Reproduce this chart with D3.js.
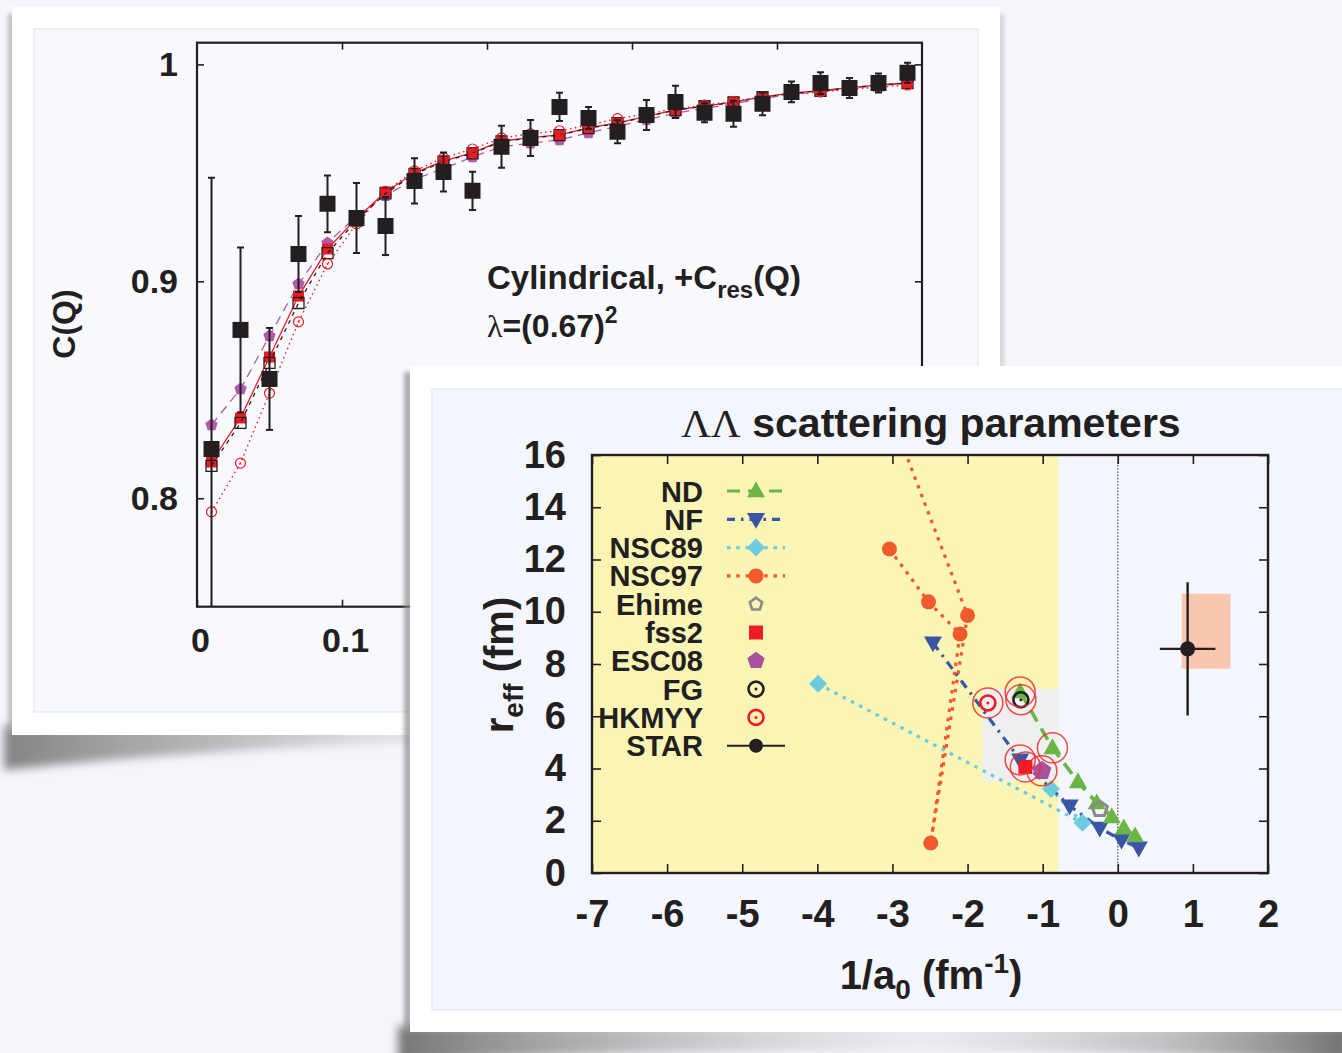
<!DOCTYPE html>
<html><head><meta charset="utf-8">
<script src="https://cdn.jsdelivr.net/npm/d3@7"></script>
<style>
html,body{margin:0;padding:0;background:#f4f6fa;}
svg{display:block;}
text{font-family:"Liberation Sans",Arial,Helvetica,sans-serif;font-weight:bold;fill:#231f20;}
</style></head><body>
<svg id="fig" width="1342" height="1053"></svg>
<script>
// ---------- Panel A: C(Q) correlation function ----------
const qValues = [0.01,0.03,0.05,0.07,0.09,0.11,0.13,0.15,0.17,0.19,0.21,0.23,0.25,0.27,0.29,0.31,0.33,0.35,0.37,0.39,0.41,0.43,0.45,0.47,0.49];
const cData   = [0.8227,0.8776,0.8550,0.9126,0.9357,0.9292,0.9255,0.9463,0.9504,0.9417,0.9620,0.9661,0.9804,0.9753,0.9689,0.9767,0.9827,0.9777,0.9772,0.9818,0.9873,0.9914,0.9891,0.9914,0.9961];
const cErr    = [0.125,0.038,0.0235,0.0175,0.0131,0.0161,0.0134,0.0104,0.009,0.0088,0.0097,0.0083,0.0065,0.0051,0.0053,0.0069,0.0074,0.0044,0.006,0.0053,0.0048,0.005,0.0046,0.0044,0.0046];
const cFss2   = [0.8167,0.8370,0.8651,0.8932,0.9149,0.9290,0.9412,0.9499,0.9555,0.9592,0.9647,0.9662,0.9675,0.9707,0.9730,0.9760,0.9790,0.9808,0.9826,0.9850,0.9868,0.9879,0.9893,0.9905,0.9915];
const cOpenSq = [0.8149,0.8347,0.8624,0.8900,0.9130,0.9280,0.9405,0.9494,0.9552,0.9590,0.9645,0.9660,0.9674,0.9706,0.9729,0.9759,0.9789,0.9807,0.9825,0.9849,0.9867,0.9878,0.9892,0.9904,0.9914];
const cEsc08  = [0.8338,0.8504,0.8748,0.8988,0.9177,0.9300,0.9395,0.9470,0.9520,0.9573,0.9620,0.9637,0.9652,0.9684,0.9715,0.9745,0.9775,0.9797,0.9818,0.9843,0.9862,0.9875,0.9889,0.9902,0.9913];
const cHkmyy  = [0.7937,0.8162,0.8485,0.8813,0.9080,0.9265,0.9415,0.9509,0.9569,0.9610,0.9661,0.9680,0.9694,0.9720,0.9750,0.9772,0.9795,0.9812,0.9830,0.9850,0.9862,0.9873,0.9885,0.9895,0.9905];
const corrXTicks = [0,0.1,0.2,0.3,0.4];
const corrXLabels = ["0","0.1","0.2","0.3","0.4"];
const corrYTicks = [0.8,0.9,1];
const corrYLabels = ["0.8","0.9","1"];

// ---------- Panel B: LambdaLambda scattering parameters ----------
const ndInvA   = [-1.30,-0.87,-0.53,-0.28,-0.08,0.08,0.23];
const ndReff   = [6.93,4.79,3.49,2.68,2.15,1.72,1.42];
const nfInvA   = [-2.46,-1.30,-0.64,-0.24,0.05,0.28];
const nfReff   = [8.81,4.33,2.57,1.72,1.26,0.96];
const nsc89InvA = [-3.99,-0.47,-0.89];
const nsc89Reff = [7.24,1.92,3.22];
const nsc97InvA = [-3.04,-2.52,-2.10,-2.49,-2.00,-2.86];
const nsc97Reff = [12.40,10.38,9.15,1.15,9.86,16.33];
const ehime = [-0.24,2.45];
const fss2  = [-1.23,4.06];
const esc08 = [-1.01,3.91];
const fg    = [-1.29,6.63];
const hkmyy = [-1.73,6.51];
const star  = [0.93,8.58];
const starErrInvA = 0.37;
const starErrReff = 2.55;
const starSysInvA = [0.85,1.50];
const starSysReff = [7.82,10.69];
const allowedInvA = [-7,-0.79];
const favouredInvA = [-1.8,-0.79];
const favouredReff = [3.52,7.05];
// models that are consistent with the measured correlation (ringed)
const ringed = [[ndInvA[0],ndReff[0]],fg,hkmyy,[ndInvA[1],ndReff[1]],[nfInvA[1],nfReff[1]],fss2,esc08];
const invATicks = [-7,-6,-5,-4,-3,-2,-1,0,1,2];
const invALabels = ["-7","-6","-5","-4","-3","-2","-1","0","1","2"];
const reffTicks = [0,2,4,6,8,10,12,14,16];
const reffLabels = ["0","2","4","6","8","10","12","14","16"];
const legendNames = ["ND","NF","NSC89","NSC97","Ehime","fss2","ESC08","FG","HKMYY","STAR"];

const INK = "#231f20";
const svg = d3.select("#fig");
const defs = svg.append("defs");

// ---- marker shapes ----
function pentagon(r){const p=d3.path();for(let k=0;k<5;k++){const a=-Math.PI/2+k*2*Math.PI/5;const x=r*Math.cos(a),y=r*Math.sin(a);k?p.lineTo(x,y):p.moveTo(x,y);}p.closePath();return p.toString();}
function triangle(w,down){const h=w*0.88,s=down?-1:1;return `M0,${-s*h*0.6}L${w/2},${s*h*0.4}L${-w/2},${s*h*0.4}Z`;}
function diamond(r){return `M0,${-r}L${r},0L0,${r}L${-r},0Z`;}
function square(h){return `M${-h/2},${-h/2}h${h}v${h}h${-h}Z`;}

// ---- shadows & blur ----
const blur = defs.append("filter").attr("id","soft").attr("x","-20%").attr("y","-200%").attr("width","140%").attr("height","500%");
blur.append("feGaussianBlur").attr("stdDeviation",5);
const blur2 = defs.append("filter").attr("id","soft2").attr("x","-50%").attr("y","-10%").attr("width","200%").attr("height","120%");
blur2.append("feGaussianBlur").attr("stdDeviation",2);
function hGrad(id,stops){const g=defs.append("linearGradient").attr("id",id).attr("x1",0).attr("x2",1).attr("y1",0).attr("y2",0);
  stops.forEach(s=>g.append("stop").attr("offset",s[0]).attr("stop-color",s[1]).attr("stop-opacity",s[2]));}
hGrad("sh1",[[0,"#707070",0.85],[0.5,"#909090",0.6],[1,"#b8b8b8",0.25]]);
hGrad("sh2",[[0,"#707070",0.95],[0.3,"#a8a8a8",0.6],[0.55,"#d8d8d8",0.35],[0.8,"#a0a0a0",0.6],[1,"#6a6a6a",0.95]]);

// card 1
svg.append("path").attr("d","M4,726 L430,726 L430,742 Q220,748 4,770 Z").attr("fill","url(#sh1)").attr("filter","url(#soft)");
svg.append("rect").attr("x",8).attr("y",14).attr("width",8).attr("height",718).attr("fill","#9a9a9a").attr("opacity",0.6).attr("filter","url(#soft2)");
svg.append("rect").attr("x",998).attr("y",14).attr("width",6).attr("height",718).attr("fill","#b0b0b0").attr("opacity",0.5).attr("filter","url(#soft2)");
svg.append("rect").attr("x",12).attr("y",7).attr("width",988).attr("height",728).attr("fill","#ffffff");
svg.append("rect").attr("x",34).attr("y",29).attr("width",944).attr("height",683).attr("fill","#f7f9fd").attr("stroke","#e1e4eb").attr("stroke-width",1);

// ===== Panel A =====
const x1 = d3.scaleLinear().domain([0,0.5]).range([197,922]);
const y1 = d3.scaleLinear().domain([0.75,1.01]).range([606.7,42.7]);
const pA = svg.append("g");
defs.append("clipPath").attr("id","clipA").append("rect").attr("x",197).attr("y",42.7).attr("width",725).attr("height",564);

function styleAxis(g,size){
  g.attr("font-size",null).attr("font-family",null);
  g.select(".domain").remove();
  g.selectAll("line").attr("stroke",INK).attr("stroke-width",1.6);
  g.selectAll("text").style("font-size",size+"px").style("fill",INK);
}
const gxA = pA.append("g").attr("transform",`translate(0,${y1.range()[0]})`)
  .call(d3.axisBottom(x1).tickValues(corrXTicks).tickFormat((d,i)=>corrXLabels[i]).tickSize(-7).tickPadding(21));
styleAxis(gxA,34);
gxA.selectAll("text").attr("dx",3);
styleAxis(pA.append("g").attr("transform",`translate(0,${y1.range()[1]})`)
  .call(d3.axisTop(x1).tickValues(corrXTicks.slice(1)).tickFormat("").tickSize(-7)),34);
styleAxis(pA.append("g").attr("transform",`translate(${x1.range()[0]},0)`)
  .call(d3.axisLeft(y1).tickValues(corrYTicks).tickFormat((d,i)=>corrYLabels[i]).tickSize(-7).tickPadding(19)),34);
styleAxis(pA.append("g").attr("transform",`translate(${x1.range()[1]},0)`)
  .call(d3.axisRight(y1).tickValues(corrYTicks).tickFormat("").tickSize(-7)),34);

const plotA = pA.append("g").attr("clip-path","url(#clipA)");
const lineA = d3.line().x((d,i)=>x1(qValues[i])).y(d=>y1(d));
// ESC08
plotA.append("path").attr("d",lineA(cEsc08)).attr("fill","none").attr("stroke","#b35aa8").attr("stroke-width",1.3).attr("stroke-dasharray","9,6");
plotA.selectAll(".pe").data(cEsc08).join("path").attr("d",pentagon(6.5)).attr("fill","#b35aa8")
  .attr("transform",(d,i)=>`translate(${x1(qValues[i])},${y1(d)})`);
// fss2
plotA.append("path").attr("d",lineA(cFss2)).attr("fill","none").attr("stroke","#ed1c24").attr("stroke-width",1.3);
plotA.selectAll(".fs").data(cFss2).join("path").attr("d",square(11)).attr("fill","#ed1c24")
  .attr("transform",(d,i)=>`translate(${x1(qValues[i])},${y1(d)})`);
// open squares, black dashed
plotA.append("path").attr("d",lineA(cOpenSq)).attr("fill","none").attr("stroke",INK).attr("stroke-width",1.3).attr("stroke-dasharray","4,5");
plotA.selectAll(".os").data(cOpenSq).join("path").attr("d",square(11)).attr("fill","none").attr("stroke",INK).attr("stroke-width",1.3)
  .attr("transform",(d,i)=>`translate(${x1(qValues[i])},${y1(d)})`);
// HKMYY
plotA.append("path").attr("d",lineA(cHkmyy)).attr("fill","none").attr("stroke","#ed1c24").attr("stroke-width",1.4).attr("stroke-dasharray","1.5,3.5");
const hk = plotA.selectAll(".hk").data(cHkmyy).join("g").attr("transform",(d,i)=>`translate(${x1(qValues[i])},${y1(d)})`);
hk.append("circle").attr("r",5).attr("fill","none").attr("stroke","#ed1c24").attr("stroke-width",1.2);
hk.append("circle").attr("r",0.9).attr("fill","#ed1c24");
// measured points with error bars
const dat = plotA.selectAll(".dt").data(cData).join("g");
dat.append("line").attr("x1",(d,i)=>x1(qValues[i])).attr("x2",(d,i)=>x1(qValues[i]))
  .attr("y1",(d,i)=>y1(d-cErr[i])).attr("y2",(d,i)=>y1(d+cErr[i])).attr("stroke",INK).attr("stroke-width",2);
[-1,1].forEach(s=>dat.append("line").attr("x1",(d,i)=>x1(qValues[i])-3.5).attr("x2",(d,i)=>x1(qValues[i])+3.5)
  .attr("y1",(d,i)=>y1(d+s*cErr[i])).attr("y2",(d,i)=>y1(d+s*cErr[i])).attr("stroke",INK).attr("stroke-width",2));
dat.append("path").attr("d",square(16)).attr("fill",INK).attr("transform",(d,i)=>`translate(${x1(qValues[i])},${y1(d)})`);

pA.append("rect").attr("x",197).attr("y",42.7).attr("width",725).attr("height",564).attr("fill","none").attr("stroke",INK).attr("stroke-width",2.2);

pA.append("text").attr("transform","translate(75,324) rotate(-90)").attr("text-anchor","middle").style("font-size","32px").text("C(Q)");
const t1 = pA.append("text").attr("x",487).attr("y",289).style("font-size","33px");
t1.append("tspan").text("Cylindrical, +C");
t1.append("tspan").attr("dy",9).style("font-size","24px").text("res");
t1.append("tspan").attr("dy",-9).text("(Q)");
const t2 = pA.append("text").attr("x",487).attr("y",337).style("font-size","32px");
t2.append("tspan").style("font-family","'Liberation Serif',serif").style("font-weight","normal").text("λ");
t2.append("tspan").text("=(0.67)");
t2.append("tspan").attr("dy",-14).style("font-size","23px").text("2");

// card 2
svg.append("path").attr("d","M398,1026 L1350,1026 L1350,1062 Q870,1040 398,1062 Z").attr("fill","url(#sh2)").attr("filter","url(#soft)");
svg.append("rect").attr("x",404).attr("y",372).attr("width",8).attr("height",660).attr("fill","#8a8a8a").attr("opacity",0.7).attr("filter","url(#soft2)");
svg.append("rect").attr("x",410).attr("y",366).attr("width",940).attr("height",666).attr("fill","#ffffff");
svg.append("rect").attr("x",432).attr("y",389).attr("width",920).attr("height",621).attr("fill","#f3f6fd").attr("stroke","#dde1ea").attr("stroke-width",1);

// ===== Panel B =====
const x2 = d3.scaleLinear().domain([-7,2]).range([592,1268]);
const y2 = d3.scaleLinear().domain([0,16]).range([873,455]);
const pB = svg.append("g");
defs.append("clipPath").attr("id","clipB").append("rect").attr("x",592).attr("y",455).attr("width",676).attr("height",418);
const plotB = pB.append("g").attr("clip-path","url(#clipB)");

plotB.append("rect").attr("x",x2(allowedInvA[0])).attr("y",y2(16)).attr("width",x2(allowedInvA[1])-x2(allowedInvA[0])).attr("height",y2(0)-y2(16)).attr("fill","#faf5b5");
plotB.append("rect").attr("x",x2(favouredInvA[0])).attr("y",y2(favouredReff[1])).attr("width",x2(favouredInvA[1])-x2(favouredInvA[0]))
  .attr("height",y2(favouredReff[0])-y2(favouredReff[1])).attr("fill","#eef0ef");
plotB.append("line").attr("x1",x2(0)).attr("x2",x2(0)).attr("y1",y2(0)).attr("y2",y2(16)).attr("stroke","#6d6d6d").attr("stroke-width",1.4).attr("stroke-dasharray","1.6,1.6");

// axes
function styleB(g,size){
  g.attr("font-size",null).attr("font-family",null);
  g.select(".domain").remove();
  g.selectAll("line").attr("stroke",INK).attr("stroke-width",1.6);
  g.selectAll("text").style("font-size",size+"px").style("fill",INK);
}
styleB(pB.append("g").attr("transform",`translate(0,${y2(0)})`)
  .call(d3.axisBottom(x2).tickValues(invATicks).tickFormat((d,i)=>invALabels[i]).tickSize(-9).tickPadding(27)),38);
styleB(pB.append("g").attr("transform",`translate(0,${y2(16)})`)
  .call(d3.axisTop(x2).tickValues(invATicks).tickFormat("").tickSize(-9)),38);
styleB(pB.append("g").attr("transform",`translate(${x2(-7)},0)`)
  .call(d3.axisLeft(y2).tickValues(reffTicks).tickFormat((d,i)=>reffLabels[i]).tickSize(-9).tickPadding(26)),38);
styleB(pB.append("g").attr("transform",`translate(${x2(2)},0)`)
  .call(d3.axisRight(y2).tickValues(reffTicks).tickFormat("").tickSize(-9)),38);

// STAR systematic band and point
plotB.append("rect").attr("x",x2(starSysInvA[0])).attr("y",y2(starSysReff[1])).attr("width",x2(starSysInvA[1])-x2(starSysInvA[0]))
  .attr("height",y2(starSysReff[0])-y2(starSysReff[1])).attr("fill","#f9c6b0");
plotB.append("line").attr("x1",x2(star[0]-starErrInvA)).attr("x2",x2(star[0]+starErrInvA)).attr("y1",y2(star[1])).attr("y2",y2(star[1])).attr("stroke",INK).attr("stroke-width",2.4);
plotB.append("line").attr("x1",x2(star[0])).attr("x2",x2(star[0])).attr("y1",y2(star[1]-starErrReff)).attr("y2",y2(star[1]+starErrReff)).attr("stroke",INK).attr("stroke-width",2.4);
plotB.append("circle").attr("cx",x2(star[0])).attr("cy",y2(star[1])).attr("r",7.5).attr("fill",INK);

const series = [
  {xs:nsc97InvA, ys:nsc97Reff, color:"#f15a2b", dash:"3.5,5.8", width:3.2, mark:"circle"},
  {xs:nsc89InvA, ys:nsc89Reff, color:"#6dcbe0", dash:"3.5,5.8", width:3.2, mark:"diamond"},
  {xs:nfInvA,    ys:nfReff,    color:"#3a55a5", dash:"9,6,2.5,6", width:3.2, mark:"down"},
  {xs:ndInvA,    ys:ndReff,    color:"#6ab545", dash:"13,8", width:3.6, mark:"up"}
];
function drawMark(g,mark,color){
  if(mark==="circle") g.append("circle").attr("r",7.5).attr("fill",color);
  else if(mark==="diamond") g.append("path").attr("d",diamond(9)).attr("fill",color);
  else if(mark==="down") g.append("path").attr("d",triangle(18,true)).attr("fill",color);
  else if(mark==="up") g.append("path").attr("d",triangle(18,false)).attr("fill",color);
}
const lineB = d3.line();
series.forEach(s=>{
  const pts = s.xs.map((v,i)=>[x2(v),y2(s.ys[i])]);
  plotB.append("path").attr("d",lineB(pts)).attr("fill","none").attr("stroke",s.color).attr("stroke-width",s.width).attr("stroke-dasharray",s.dash);
});
series.forEach(s=>{
  s.xs.forEach((v,i)=>{ drawMark(plotB.append("g").attr("transform",`translate(${x2(v)},${y2(s.ys[i])})`),s.mark,s.color); });
});
// single-point models
plotB.append("path").attr("d",pentagon(8)).attr("fill","none").attr("stroke","#8a8a8a").attr("stroke-width",3).attr("transform",`translate(${x2(ehime[0])},${y2(ehime[1])})`);
plotB.append("path").attr("d",square(14)).attr("fill","#ed1c24").attr("transform",`translate(${x2(fss2[0])},${y2(fss2[1])})`);
plotB.append("path").attr("d",pentagon(10)).attr("fill","#a9519f").attr("transform",`translate(${x2(esc08[0])},${y2(esc08[1])})`);
function odot(g,color){g.append("circle").attr("r",7.5).attr("fill","none").attr("stroke",color).attr("stroke-width",2.6);g.append("circle").attr("r",1.5).attr("fill",color);}
odot(plotB.append("g").attr("transform",`translate(${x2(fg[0])},${y2(fg[1])})`),INK);
odot(plotB.append("g").attr("transform",`translate(${x2(hkmyy[0])},${y2(hkmyy[1])})`),"#ed1c24");
plotB.selectAll(".ring").data(ringed).join("circle").attr("cx",d=>x2(d[0])).attr("cy",d=>y2(d[1])).attr("r",15)
  .attr("fill","none").attr("stroke","#ee2b2b").attr("stroke-width",1.5).attr("opacity",0.85);

pB.append("rect").attr("x",592).attr("y",455).attr("width",676).attr("height",418).attr("fill","none").attr("stroke",INK).attr("stroke-width",2.4);

// legend
const legMarks = [
  {color:"#6ab545",dash:"13,8",mark:"up"},
  {color:"#3a55a5",dash:"8,6,2.5,6",mark:"down"},
  {color:"#6dcbe0",dash:"3.5,5.8",mark:"diamond"},
  {color:"#f15a2b",dash:"3.5,5.8",mark:"circle"},
  {mark:"ehime"},{mark:"fss2"},{mark:"esc08"},{mark:"fg"},{mark:"hkmyy"},{color:INK,dash:null,mark:"star"}
];
legendNames.forEach((name,i)=>{
  const cy = 491 + i*28.3;
  pB.append("text").attr("x",703).attr("y",cy+10.5).attr("text-anchor","end").style("font-size","29px").text(name);
  const m = legMarks[i];
  if(m.color){
    const ln = pB.append("line").attr("x1",727).attr("x2",785).attr("y1",cy).attr("y2",cy).attr("stroke",m.color).attr("stroke-width",m.mark==="star"?2:3.2);
    if(m.dash) ln.attr("stroke-dasharray",m.dash);
  }
  const g = pB.append("g").attr("transform",`translate(756,${cy})`);
  if(m.mark==="ehime") g.append("path").attr("d",pentagon(6.5)).attr("fill","none").attr("stroke","#8a8a8a").attr("stroke-width",2.6);
  else if(m.mark==="fss2") g.append("path").attr("d",square(14)).attr("fill","#ed1c24");
  else if(m.mark==="esc08") g.append("path").attr("d",pentagon(9)).attr("fill","#a9519f");
  else if(m.mark==="fg") odot(g,INK);
  else if(m.mark==="hkmyy") odot(g,"#ed1c24");
  else if(m.mark==="star") g.append("circle").attr("r",7).attr("fill",INK);
  else drawMark(g,m.mark,m.color);
});

// titles
const tt = pB.append("text").attr("x",931).attr("y",437).attr("text-anchor","middle").style("font-size","41px");
tt.append("tspan").style("font-family","'Liberation Serif',serif").style("font-weight","normal").text("ΛΛ");
tt.append("tspan").text(" scattering parameters");
const yl = pB.append("text").attr("transform","translate(513,665) rotate(-90)").attr("text-anchor","middle").style("font-size","40px");
yl.append("tspan").text("r");
yl.append("tspan").attr("dy",10).style("font-size","28px").text("eff");
yl.append("tspan").attr("dy",-10).text(" (fm)");
const xl = pB.append("text").attr("x",931).attr("y",989).attr("text-anchor","middle").style("font-size","40px");
xl.append("tspan").text("1/a");
xl.append("tspan").attr("dy",10).style("font-size","28px").text("0");
xl.append("tspan").attr("dy",-10).text(" (fm");
xl.append("tspan").attr("dy",-16).style("font-size","28px").text("-1");
xl.append("tspan").attr("dy",16).text(")");
</script>
</body></html>
